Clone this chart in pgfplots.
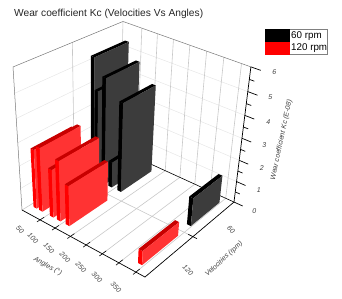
\documentclass[border=0pt]{standalone}
\usepackage{pgfplots}
\pgfplotsset{compat=1.18}
\usepackage{fontspec}
\setmainfont{Liberation Sans}
\definecolor{gridg}{RGB}{200,200,200}
\definecolor{minorg}{RGB}{230,230,230}
\definecolor{wallg}{RGB}{120,120,120}
\definecolor{graybar}{RGB}{60,60,60}
\definecolor{redbar}{RGB}{255,51,51}
\definecolor{redtop}{RGB}{200,0,0}
\pgfplotsset{
  /pgf/declare function={
    ss(\a)=(\a+12)/388;
    tt(\b)=(148-\b)/110;
    hh(\c)=\c/6;
    wq(\a,\b,\c)=1-0.0943*ss(\a)+0.1525*tt(\b)-0.113*hh(\c);
    px(\a,\b,\c)=(22+109.3*ss(\a)+116.3*tt(\b)-10.47*hh(\c))/wq(\a,\b,\c);
    py(\a,\b,\c)=(210+40.9*ss(\a)-37.1*tt(\b)-150.6*hh(\c))/wq(\a,\b,\c);
  },
  table/proj/.style={row sep=\\,
    x expr={px(\thisrow{a},\thisrow{v},\thisrow{z})},
    y expr={py(\thisrow{a},\thisrow{v},\thisrow{z})}},
}
% line between two (angle, rpm, Kc) points
\newcommand{\Seg}[7]{\addplot[#7,forget plot] table[proj] {a v z\\ #1 #2 #3\\ #4 #5 #6\\};}
% bar: angle from, angle to, rpm near, rpm far, Kc, top colour, end colour, face colour
\newcommand{\KBar}[8]{%
  \addplot[fill=#7,draw=none,forget plot] table[proj] {a v z\\ #1 #3 0\\ #2 #3 0\\ #2 #3 #5\\ #1 #3 #5\\ #1 #3 0\\};
  \addplot[fill=#6,draw=none,forget plot] table[proj] {a v z\\ #1 #3 #5\\ #2 #3 #5\\ #2 #4 #5\\ #1 #4 #5\\ #1 #3 #5\\};
  \addplot[fill=#8,draw=none,forget plot] table[proj] {a v z\\ #2 #3 0\\ #2 #4 0\\ #2 #4 #5\\ #2 #3 #5\\ #2 #3 0\\};
}
\newcommand{\Grid}[1]{%
  \Seg{#1}{148}{0}{#1}{38}{0}{gridg,line width=.6pt}
  \Seg{#1}{38}{0}{#1}{38}{6}{gridg,line width=.6pt}}
\newcommand{\ZGrid}[1]{%
  \Seg{-12}{148}{#1}{-12}{38}{#1}{minorg,line width=.5pt}
  \Seg{-12}{38}{#1}{376}{38}{#1}{minorg,line width=.5pt}}
\newcommand{\XTick}[1]{\Seg{#1}{151}{0}{#1}{144}{0}{black,line width=.6pt}}
\newcommand{\ZTick}[2]{\Seg{376}{38}{#1}{#2}{38}{#1}{black,line width=.7pt}}
\begin{document}
\begin{tikzpicture}
\useasboundingbox (0,0) rectangle (342pt,298pt);
\begin{axis}[at={(0,0)},anchor=south west,scale only axis,width=342pt,height=298pt,
  xmin=0,xmax=342,ymin=0,ymax=298,y dir=reverse,hide axis,clip=false,
  legend style={at={(axis cs:265.3,29.3)},anchor=north west,draw=gray,
    inner sep=0pt,outer sep=0pt,row sep=0pt,
    font=\fontsize{9.8}{11}\selectfont,
    nodes={inner sep=.5pt,anchor=west},
    /tikz/every even column/.append style={column sep=6pt}},
  legend cell align=left,
  legend image code/.code={\fill[#1] (0pt,-6pt) rectangle (24pt,6pt);},
]
\addlegendimage{fill=black,draw=black}
\addlegendentry{\hspace{1pt}60 rpm}
\addlegendimage{fill=red,draw=red}
\addlegendentry{\hspace{1pt}120 rpm\hspace{5.5pt}}
% light gridlines
\ZGrid{1}\ZGrid{2}\ZGrid{3}\ZGrid{4}\ZGrid{5}
\Grid{50}\Grid{100}\Grid{150}\Grid{200}\Grid{250}\Grid{300}\Grid{350}
\Seg{-12}{93}{0}{376}{93}{0}{gridg,line width=.6pt}
\Seg{-12}{93}{0}{-12}{93}{6}{gridg,line width=.6pt}
% walls
\Seg{-12}{148}{6}{-12}{38}{6}{wallg,line width=.5pt}
\Seg{-12}{38}{6}{376}{38}{6}{wallg,line width=.5pt}
\Seg{-12}{148}{0}{-12}{148}{6}{wallg,line width=.5pt}
\Seg{-12}{38}{0}{-12}{38}{6}{gridg,line width=.6pt}
\Seg{-12}{148}{0}{-12}{38}{0}{gridg,line width=.6pt}
% floor edges and axes
\Seg{-12}{38}{0}{376}{38}{0}{black,line width=.6pt}
\Seg{-12}{148}{0}{376}{148}{0}{black,line width=.7pt}
\Seg{376}{148}{0}{376}{38}{0}{black,line width=.7pt}
\Seg{376}{38}{0}{376}{38}{6}{black,line width=.7pt}
\XTick{50}\XTick{100}\XTick{150}\XTick{200}\XTick{250}\XTick{300}\XTick{350}
\Seg{362}{93}{0}{388}{93}{0}{black,line width=.7pt}
\ZTick{0}{403}\ZTick{1}{403}\ZTick{2}{403}\ZTick{3}{403}\ZTick{4}{403}\ZTick{5}{403}\ZTick{6}{403}
\ZTick{.5}{390}\ZTick{1.5}{390}\ZTick{2.5}{390}\ZTick{3.5}{390}\ZTick{4.5}{390}\ZTick{5.5}{390}
% 60 rpm bars
\KBar{19}{31}{84}{46}{5.46}{black}{black}{graybar}
\KBar{31}{42}{84}{46}{4.09}{black}{black}{graybar}
\KBar{56}{68}{84}{46}{4.79}{black}{black}{graybar}
\KBar{80}{92}{84}{46}{1.2}{black}{black}{graybar}
\KBar{111}{123}{84}{46}{4.05}{black}{black}{graybar}
\KBar{336}{348}{84}{46}{1.3}{black}{black}{graybar}
% 120 rpm bars
\KBar{0}{11}{140}{99}{2.64}{redtop}{red}{redbar}
\KBar{19}{31}{140}{99}{2.85}{redtop}{red}{redbar}
\KBar{56}{68}{140}{99}{2.15}{redtop}{red}{redbar}
\KBar{80}{92}{140}{99}{2.69}{redtop}{red}{redbar}
\KBar{109}{121}{140}{99}{1.81}{redtop}{red}{redbar}
\KBar{334}{346}{140}{99}{0.64}{redtop}{red}{redbar}
% text
\node[anchor=west,inner sep=0pt,font=\fontsize{10.2}{12}\selectfont,text=black!85] at (axis cs:14,14) {Wear coefficient Kc (Velocities Vs Angles)};
\begin{scope}[every node/.style={font=\itshape\fontsize{7}{8}\selectfont,text=black!75,inner sep=0pt}]
\node[rotate=-45] at (axis cs:20,230) {50};
\node[rotate=-45] at (axis cs:33,238) {100};
\node[rotate=-45] at (axis cs:49,248) {150};
\node[rotate=-45] at (axis cs:65,257) {200};
\node[rotate=-45] at (axis cs:81,267) {250};
\node[rotate=-45] at (axis cs:97,277) {300};
\node[rotate=-45] at (axis cs:116,287) {350};
\node[rotate=-29] at (axis cs:47.7,266.3) {Angles (°)};
\node[rotate=-45] at (axis cs:231,230) {60};
\node[rotate=-45] at (axis cs:188,270) {120};
\node[rotate=43] at (axis cs:224,259) {Velocities (rpm)};
\node at (axis cs:254.3,210.7) {0};
\node at (axis cs:258.7,189.7) {1};
\node at (axis cs:261.7,168.3) {2};
\node at (axis cs:264.3,145) {3};
\node at (axis cs:268.3,122.3) {4};
\node at (axis cs:270.3,97.3) {5};
\node at (axis cs:274.3,71.7) {6};
\node[rotate=78] at (axis cs:281.5,140) {Wear coefficient Kc (E-08)};
\end{scope}
\end{axis}
\end{tikzpicture}
\end{document}
